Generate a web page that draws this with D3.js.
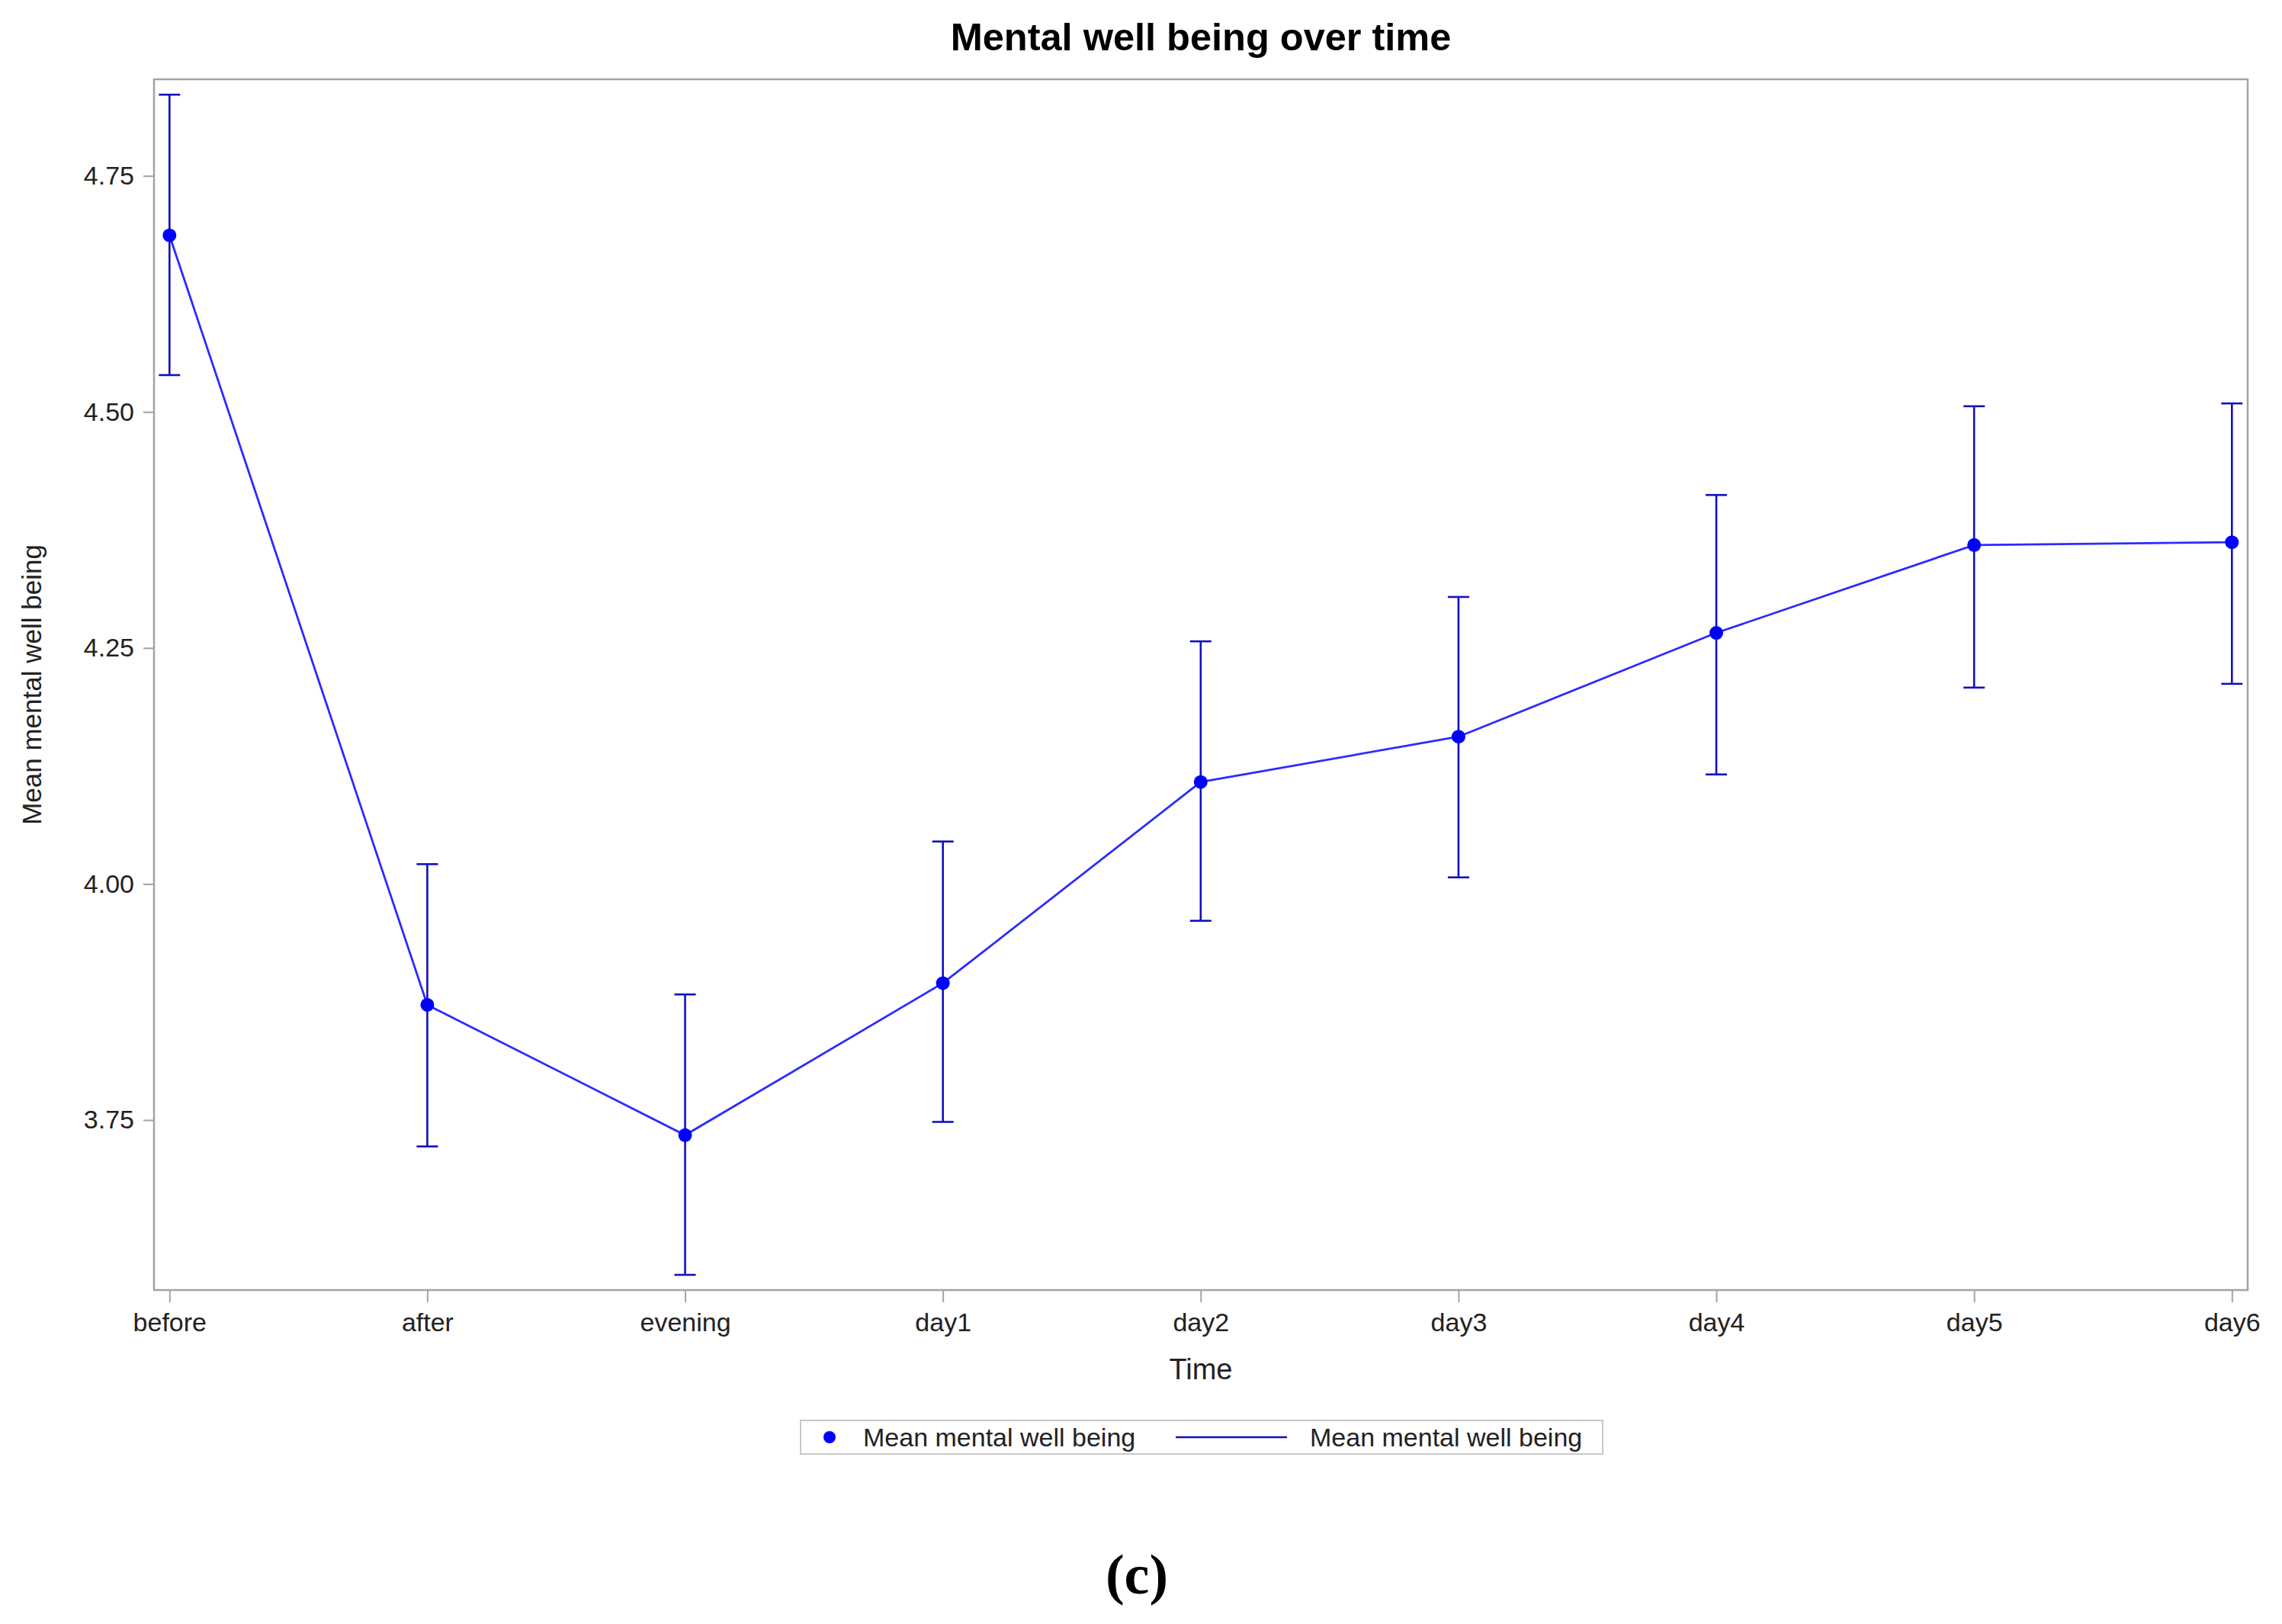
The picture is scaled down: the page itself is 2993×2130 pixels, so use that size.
<!DOCTYPE html>
<html>
<head>
<meta charset="utf-8">
<script src="https://cdn.jsdelivr.net/npm/d3@7/dist/d3.min.js"></script>
<style>
  html, body { margin: 0; padding: 0; background: #fff; }
  svg { display: block; }
</style>
</head>
<body>
<svg id="chart" width="2993" height="2130"></svg>
<script>
// ---- data ----
const categories = ["before", "after", "evening", "day1", "day2", "day3", "day4", "day5", "day6"];
const meanValues = [4.687, 3.872, 3.734, 3.895, 4.108, 4.156, 4.266, 4.359, 4.362];
const upperValues = [4.836, 4.021, 3.883, 4.045, 4.257, 4.304, 4.412, 4.506, 4.509];
const lowerValues = [4.539, 3.722, 3.586, 3.748, 3.961, 4.007, 4.116, 4.208, 4.212];
const yTickValues = [3.75, 4.00, 4.25, 4.50, 4.75];
const legendLabels = ["Mean mental well being", "Mean mental well being"];
const titleText = "Mental well being over time";
const xTitle = "Time";
const yTitle = "Mean mental well being";
const panelLabel = "(c)";

// ---- layout ----
const W = 2993, H = 2130;
const plot = { left: 202, right: 2948, top: 104, bottom: 1692 };
const font = "'Liberation Sans', Arial, Helvetica, sans-serif";
const lineColor = "#2b2bff";
const barColor = "#1010c0";
const dotColor = "#0000ff";
const frameColor = "#a3a3a3";

const svg = d3.select("#chart");
svg.append("rect").attr("width", W).attr("height", H).attr("fill", "#fff");

const x = d3.scalePoint().domain(categories).range([222.3, 2927.3]);
const y = d3.scaleLinear().domain([3.5699, 4.8523]).range([plot.bottom, plot.top]);

const data = categories.map((c, i) => ({ c, m: meanValues[i], lo: lowerValues[i], hi: upperValues[i] }));

// title
svg.append("text")
  .attr("x", (plot.left + plot.right) / 2).attr("y", 66)
  .attr("text-anchor", "middle")
  .attr("font-family", font).attr("font-weight", "bold").attr("font-size", 50.5)
  .attr("fill", "#000")
  .text(titleText);

// y axis
const yAxis = svg.append("g")
  .attr("transform", `translate(${plot.left},0)`)
  .call(d3.axisLeft(y).tickValues(yTickValues).tickFormat(d3.format(".2f")).tickSize(14).tickPadding(12));
yAxis.select(".domain").remove();
yAxis.selectAll(".tick line").attr("stroke", frameColor).attr("stroke-width", 2);
yAxis.selectAll(".tick text").attr("font-family", font).attr("font-size", 34).attr("fill", "#222");

// x axis
const xAxis = svg.append("g")
  .attr("transform", `translate(0,${plot.bottom})`)
  .call(d3.axisBottom(x).tickSize(16).tickPadding(14));
xAxis.select(".domain").remove();
xAxis.selectAll(".tick line").attr("stroke", frameColor).attr("stroke-width", 2);
xAxis.selectAll(".tick text").attr("font-family", font).attr("font-size", 34).attr("fill", "#222");

// frame
svg.append("rect")
  .attr("x", plot.left).attr("y", plot.top)
  .attr("width", plot.right - plot.left).attr("height", plot.bottom - plot.top)
  .attr("fill", "none").attr("stroke", frameColor).attr("stroke-width", 2.5);

// axis titles
svg.append("text")
  .attr("x", (plot.left + plot.right) / 2).attr("y", 1809)
  .attr("text-anchor", "middle")
  .attr("font-family", font).attr("font-size", 38).attr("fill", "#222")
  .text(xTitle);
svg.append("text")
  .attr("transform", `translate(54,${(plot.top + plot.bottom) / 2}) rotate(-90)`)
  .attr("text-anchor", "middle")
  .attr("font-family", font).attr("font-size", 35).attr("fill", "#222")
  .text(yTitle);

// error bars
const eb = svg.append("g");
eb.selectAll("line.v").data(data).join("line")
  .attr("class", "v")
  .attr("x1", d => x(d.c)).attr("x2", d => x(d.c))
  .attr("y1", d => y(d.lo)).attr("y2", d => y(d.hi))
  .attr("stroke", barColor).attr("stroke-width", 2.6);
["lo", "hi"].forEach(k => {
  eb.selectAll("line.cap-" + k).data(data).join("line")
    .attr("class", "cap-" + k)
    .attr("x1", d => x(d.c) - 14).attr("x2", d => x(d.c) + 14)
    .attr("y1", d => y(d[k])).attr("y2", d => y(d[k]))
    .attr("stroke", barColor).attr("stroke-width", 2.6);
});

// line
svg.append("path")
  .datum(data)
  .attr("fill", "none").attr("stroke", lineColor).attr("stroke-width", 2.8)
  .attr("d", d3.line().x(d => x(d.c)).y(d => y(d.m)));

// markers
svg.append("g").selectAll("circle").data(data).join("circle")
  .attr("cx", d => x(d.c)).attr("cy", d => y(d.m)).attr("r", 9)
  .attr("fill", dotColor);

// legend
const lg = svg.append("g");
lg.append("rect")
  .attr("x", 1050).attr("y", 1863).attr("width", 1052).attr("height", 44)
  .attr("fill", "#fff").attr("stroke", "#c8c8c8").attr("stroke-width", 2);
lg.append("circle").attr("cx", 1088).attr("cy", 1885).attr("r", 8).attr("fill", dotColor);
lg.append("text").attr("x", 1132).attr("y", 1897)
  .attr("font-family", font).attr("font-size", 34).attr("fill", "#222").text(legendLabels[0]);
lg.append("line").attr("x1", 1542).attr("x2", 1688).attr("y1", 1885).attr("y2", 1885)
  .attr("stroke", barColor).attr("stroke-width", 2.6);
lg.append("text").attr("x", 1718).attr("y", 1897)
  .attr("font-family", font).attr("font-size", 34).attr("fill", "#222").text(legendLabels[1]);

// panel label
svg.append("text")
  .attr("x", 1491).attr("y", 2090)
  .attr("text-anchor", "middle")
  .attr("font-family", "'Liberation Serif', 'Times New Roman', serif")
  .attr("font-weight", "bold").attr("font-size", 74).attr("fill", "#000")
  .text(panelLabel);
</script>
</body>
</html>
